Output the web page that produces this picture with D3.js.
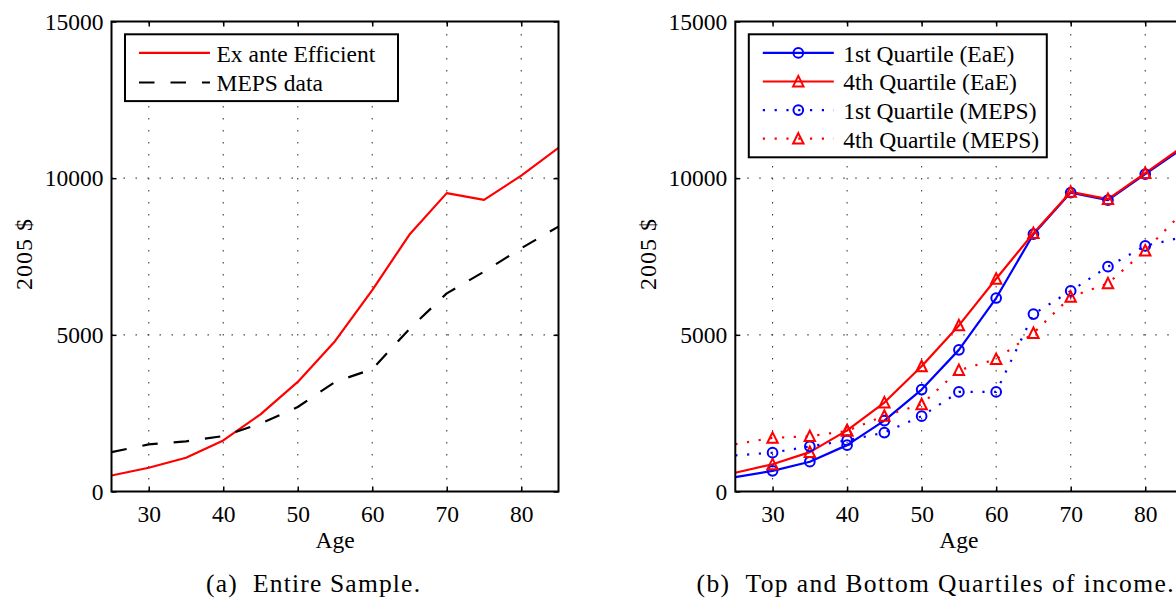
<!DOCTYPE html>
<html>
<head>
<meta charset="utf-8">
<script src="https://cdn.jsdelivr.net/npm/d3@7"></script>
<style>
  html, body { margin: 0; padding: 0; background: #fff; overflow: hidden; }
  svg { display: block; }
</style>
</head>
<body>
<svg id="chart" width="1176" height="598"></svg>
<script>
// ---- data -------------------------------------------------------------
const ages = [25, 30, 35, 40, 45, 50, 55, 60, 65, 70, 75, 80, 85];

// (a) entire sample
const eaeAll  = [512, 758, 1078, 1631, 2463, 3497, 4798, 6430, 8200, 9523, 9309, 10080, 10970];
const mepsAll = [1258, 1503, 1600, 1770, 2165, 2697, 3497, 3903, 5190, 6323, 7016, 7763, 8455];

// (b) top and bottom income quartiles
const q1EaE  = [458, 660, 950, 1480, 2260, 3253, 4520, 6175, 8212, 9540, 9300, 10130, 10950];
const q4EaE  = [600, 870, 1258, 1951, 2840, 3995, 5300, 6790, 8244, 9560, 9330, 10160, 11000];
const q1MEPS = [1152, 1240, 1440, 1631, 1880, 2405, 3177, 3177, 5662, 6400, 7176, 7838, 8120];
const q4MEPS = [1510, 1710, 1765, 1935, 2415, 2783, 3871, 4222, 5055, 6210, 6640, 7690, 8900];

const xTicks = [30, 40, 50, 60, 70, 80];
const yTicks = [0, 5000, 10000, 15000];
const yGrid  = [5000, 10000];
const xLabel = "Age";
const yLabel = "2005 $";
const captionA = "(a)  Entire Sample.";
const captionB = "(b)  Top and Bottom Quartiles of income.";

// ---- styling ----------------------------------------------------------
const SERIF = "'Liberation Serif', 'Times New Roman', serif";
const BLUE = "#0000ff", RED = "#ff0000", BLACK = "#000000";
const FONT = 23.5;
const DOTTED = "2.2,9.6";
const DASHED = "15.5,16";

const seriesA = [
  { name: "Ex ante Efficient", values: eaeAll,  color: RED,   dash: null,   marker: null },
  { name: "MEPS data",         values: mepsAll, color: BLACK, dash: DASHED, marker: null }
];
const seriesB = [
  { name: "1st Quartile (EaE)",  values: q1EaE,  color: BLUE, dash: null,   marker: "circle" },
  { name: "4th Quartile (EaE)",  values: q4EaE,  color: RED,  dash: null,   marker: "triangle" },
  { name: "1st Quartile (MEPS)", values: q1MEPS, color: BLUE, dash: DOTTED, marker: "circle" },
  { name: "4th Quartile (MEPS)", values: q4MEPS, color: RED,  dash: DOTTED, marker: "triangle" }
];

// ---- layout -----------------------------------------------------------
const TOP = 21.5, BOTTOM = 491.5;
const panels = [
  { id: "a", left: 111.5, right: 558.5, series: seriesA, caption: captionA, capCx: 313, capW: 214,
    legend: { w: 273, rowGap: 29.6, textX: 91.5 } },
  { id: "b", left: 735.3, right: 1182.5, series: seriesB, caption: captionB, capCx: 935, capW: 477,
    legend: { w: 298, rowGap: 28.6, textX: 94.5 } }
];

const svg = d3.select("#chart").style("font-family", SERIF);
const y = d3.scaleLinear().domain([0, 15000]).range([BOTTOM, TOP]);

const trianglePath = "M0,-5.6L5.2,4.9L-5.2,4.9Z";

function label(sel) {
  return sel.append("text").style("font-family", SERIF).attr("fill", "#000");
}

function drawMarker(sel, kind, color) {
  if (kind === "circle") {
    sel.append("circle").attr("r", 4.85)
      .attr("fill", "none").attr("stroke", color).attr("stroke-width", 2);
  } else if (kind === "triangle") {
    sel.append("path").attr("d", trianglePath)
      .attr("fill", "none").attr("stroke", color).attr("stroke-width", 2)
      .attr("stroke-linejoin", "miter");
  }
}

panels.forEach(p => {
  const x = d3.scaleLinear().domain([25, 85]).range([p.left, p.right]);
  const g = svg.append("g").attr("class", "panel-" + p.id);
  const W = p.right - p.left, H = BOTTOM - TOP;

  const clipId = "clip-" + p.id;
  g.append("clipPath").attr("id", clipId)
    .append("rect").attr("x", p.left).attr("y", TOP).attr("width", W).attr("height", H);

  // dotted grid
  const grid = g.append("g").attr("stroke", "#3a3a3a").attr("stroke-width", 1.1)
    .attr("stroke-dasharray", "1.4,10.6").attr("fill", "none");
  grid.selectAll("line.v").data(xTicks).join("line").attr("class", "v")
    .attr("x1", d => x(d)).attr("x2", d => x(d)).attr("y1", BOTTOM).attr("y2", TOP);
  grid.selectAll("line.h").data(yGrid).join("line").attr("class", "h")
    .attr("y1", d => y(d)).attr("y2", d => y(d)).attr("x1", p.left).attr("x2", p.right);

  // series lines and markers
  const line = d3.line().x(d => x(d.age)).y(d => y(d.v));
  const plot = g.append("g").attr("clip-path", `url(#${clipId})`);
  const markers = g.append("g");
  p.series.forEach(s => {
    const pts = ages.map((a, i) => ({ age: a, v: s.values[i] }));
    plot.append("path").datum(pts).attr("d", line)
      .attr("fill", "none").attr("stroke", s.color).attr("stroke-width", 2.2)
      .attr("stroke-linejoin", "round")
      .attr("stroke-dasharray", s.dash);
    if (s.marker) {
      const inner = pts.filter(d => d.age > x.domain()[0] && d.age < x.domain()[1]);
      inner.forEach(d => {
        const m = markers.append("g").attr("transform", `translate(${x(d.age)},${y(d.v)})`);
        drawMarker(m, s.marker, s.color);
      });
    }
  });

  // axes (ticks pointing inward on all four sides)
  const fmt = d3.format("d");
  const axB = g.append("g").attr("transform", `translate(0,${BOTTOM})`)
    .call(d3.axisBottom(x).tickValues(xTicks).tickSize(-5).tickSizeOuter(0).tickFormat(fmt));
  const axT = g.append("g").attr("transform", `translate(0,${TOP})`)
    .call(d3.axisTop(x).tickValues(xTicks).tickSize(-5).tickSizeOuter(0).tickFormat(""));
  const axL = g.append("g").attr("transform", `translate(${p.left},0)`)
    .call(d3.axisLeft(y).tickValues(yTicks).tickSize(-5).tickSizeOuter(0).tickPadding(8).tickFormat(fmt));
  const axR = g.append("g").attr("transform", `translate(${p.right},0)`)
    .call(d3.axisRight(y).tickValues(yTicks).tickSize(-5).tickSizeOuter(0).tickFormat(""));
  [axB, axT, axL, axR].forEach(a => {
    a.select(".domain").remove();
    a.selectAll("line").attr("stroke", "#000").attr("stroke-width", 1.5);
    a.attr("font-family", SERIF).attr("font-size", FONT);
    a.selectAll("text").style("font-family", SERIF).attr("font-size", FONT).attr("fill", "#000");
  });
  axB.selectAll("text").attr("y", 30.2).attr("dy", null);
  axL.selectAll("text").attr("dy", "0.32em");

  // box
  g.append("rect").attr("x", p.left).attr("y", TOP).attr("width", W).attr("height", H)
    .attr("fill", "none").attr("stroke", "#000").attr("stroke-width", 2);

  // axis titles
  label(g).attr("x", (p.left + p.right) / 2).attr("y", BOTTOM + 56.8)
    .attr("text-anchor", "middle").attr("font-size", FONT).text(xLabel);
  label(g)
    .attr("transform", `translate(${p.left - 79.5},${(TOP + BOTTOM) / 2 - 2}) rotate(-90)`)
    .attr("text-anchor", "middle").attr("font-size", 24)
    .attr("textLength", 71).attr("lengthAdjust", "spacing")
    .text(yLabel);

  // legend
  const L = p.legend, n = p.series.length;
  const lx = p.left + 13.5, ly = TOP + 12.8;
  const lh = 37.2 + (n - 1) * L.rowGap;
  const leg = g.append("g").attr("transform", `translate(${lx},${ly})`);
  leg.append("rect").attr("width", L.w).attr("height", lh)
    .attr("fill", "#fff").attr("stroke", "#000").attr("stroke-width", 2);
  p.series.forEach((s, i) => {
    const ry = 18.6 + i * L.rowGap;
    leg.append("line").attr("x1", 14).attr("x2", 85).attr("y1", ry).attr("y2", ry)
      .attr("stroke", s.color).attr("stroke-width", 2.2).attr("stroke-dasharray", s.dash);
    if (s.marker) {
      const m = leg.append("g").attr("transform", `translate(49.5,${ry})`);
      drawMarker(m, s.marker, s.color);
    }
    label(leg).attr("x", L.textX).attr("y", ry + 9)
      .attr("font-size", FONT).text(s.name);
  });

  // caption
  label(g).attr("x", p.capCx).attr("y", 591.7)
    .attr("text-anchor", "middle").attr("font-size", 25.5)
    .attr("textLength", p.capW).attr("lengthAdjust", "spacing")
    .style("white-space", "pre")
    .text(p.caption);
});
</script>
</body>
</html>
